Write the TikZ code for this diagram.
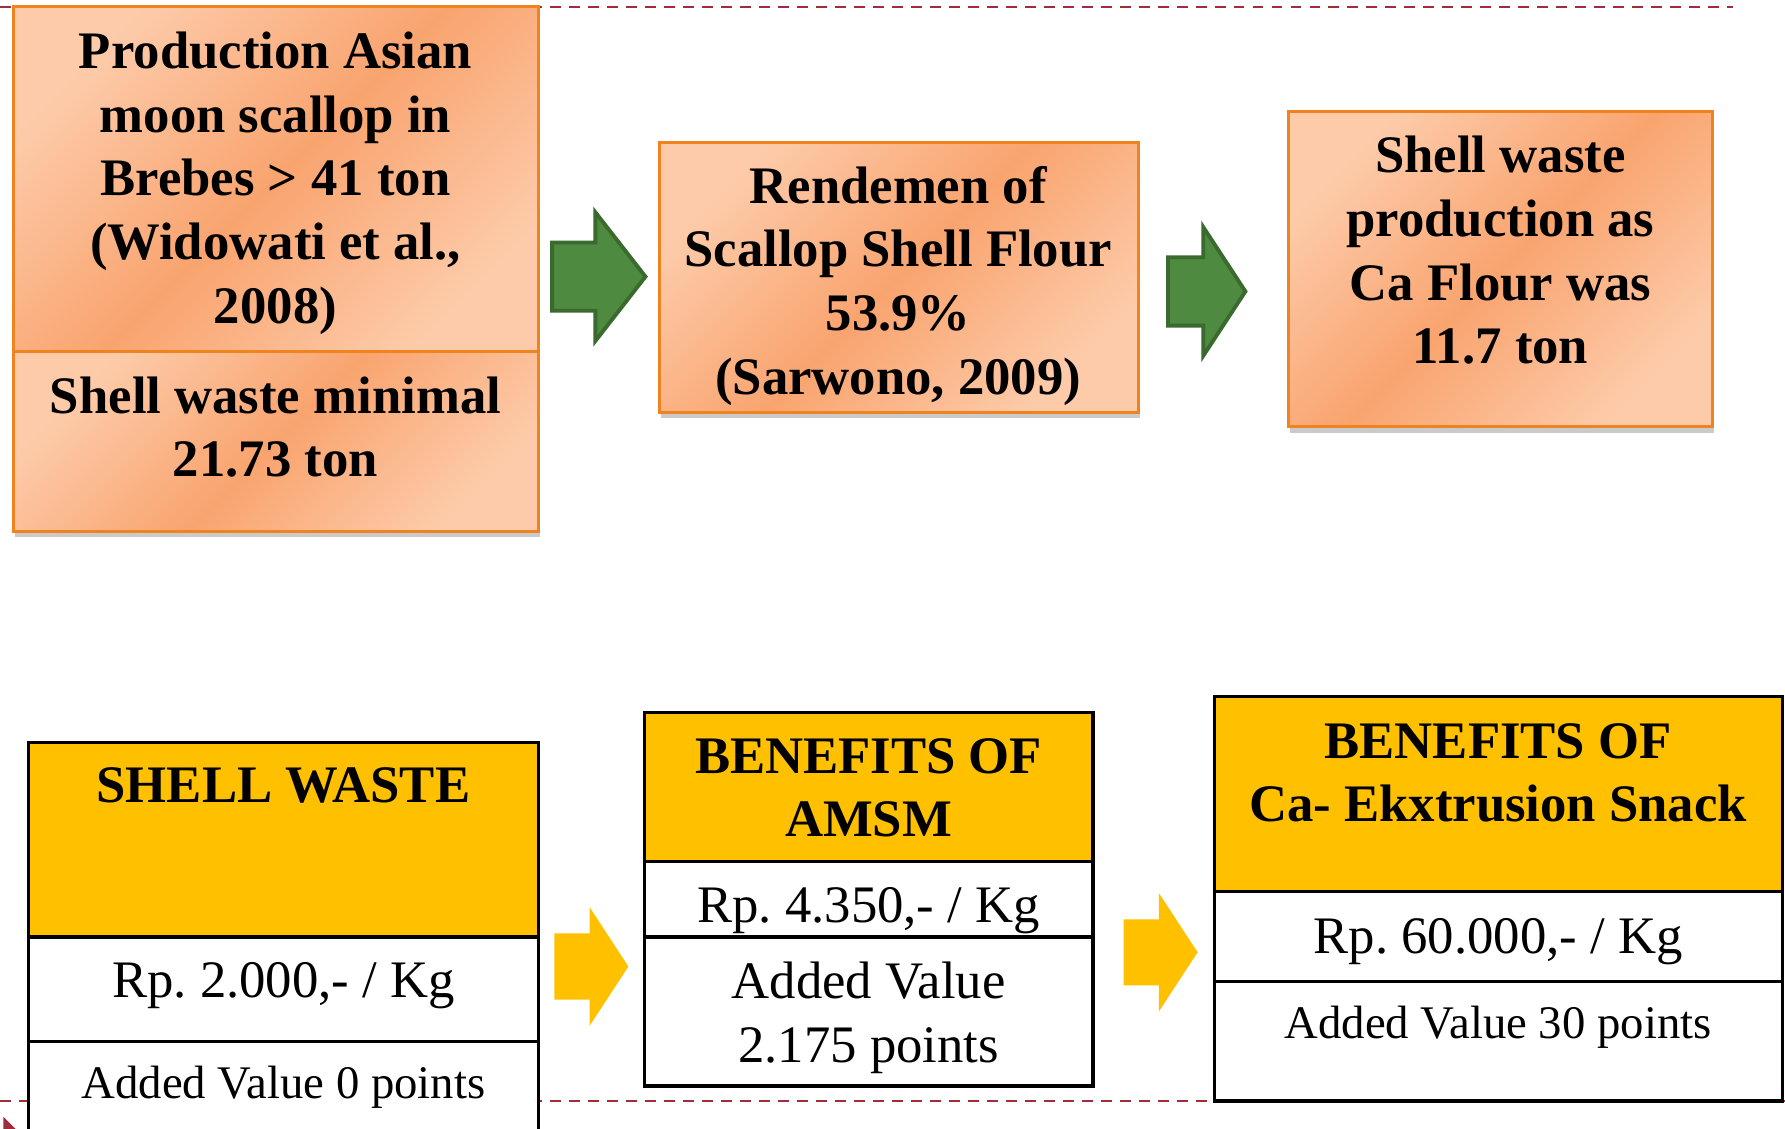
\documentclass[tikz,border=0pt]{standalone}
\usepackage{fontspec}
\setmainfont{Liberation Serif}
\frenchspacing
\usetikzlibrary{shadows}
\definecolor{peach}{HTML}{FDCBAA}
\definecolor{apricot}{HTML}{F9A46F}
\definecolor{tangerine}{HTML}{EF8320}
\definecolor{leaf}{HTML}{4E8A40}
\definecolor{leafdark}{HTML}{3A6A2D}
\definecolor{gold}{HTML}{FFC000}
\definecolor{wine}{HTML}{A02C3C}
\tikzset{
  orangebox/.style={draw=tangerine, line width=0.9pt, left color=peach, right color=peach, middle color=apricot, shading angle=45,
    drop shadow={shadow xshift=0.5pt, shadow yshift=-1.6pt, opacity=0.35, fill=black!60}},
  cell/.style={draw=black, line width=0.95pt},
  boldtxt/.style={font=\fontsize{15}{18.1}\selectfont\bfseries, align=center, inner sep=0pt},
  plaintxt/.style={font=\fontsize{15}{18.1}\selectfont, align=center, inner sep=0pt},
  smalltxt/.style={font=\fontsize{13.3}{16}\selectfont, align=center, inner sep=0pt},
}
\begin{document}
\begin{tikzpicture}[x=0.11384mm, y=-0.11384mm]
            \useasboundingbox (0,0) rectangle (1568,991);
            \draw[wine, line width=0.7pt, dash pattern=on 3.1pt off 2.3pt] (0,6) -- (1522,6);
            \draw[wine, line width=0.7pt, dash pattern=on 3.1pt off 2.3pt] (0,967) -- (1568,967);
            \fill[wine] (3,981) -- (14,992) -- (3,1003) -- cycle;
            \path[orangebox] (12,6) rectangle (473,309);
            \path[orangebox] (12,309) rectangle (473,467);
            \path[orangebox] (579,125) rectangle (1000,362);
            \path[orangebox] (1132,98) rectangle (1504,375);
            \foreach \xa/\xb/\xc/\ym in {485/523/567/243, 1026/1057/1094/256}
              \draw[fill=leaf, draw=leafdark, line width=1.1pt, line join=miter] (\xa,\ym-30) -- (\xb,\ym-30) -- (\xb,\ym-56.5) -- (\xc,\ym) -- (\xb,\ym+56.5) -- (\xb,\ym+30) -- (\xa,\ym+30) -- cycle;
            \foreach \xa/\xb/\xc/\ym in {487/518/552/849, 987/1018/1052/836.5}
              \fill[gold] (\xa,\ym-29) -- (\xb,\ym-29) -- (\xb,\ym-52) -- (\xc,\ym) -- (\xb,\ym+52) -- (\xb,\ym+29) -- (\xa,\ym+29) -- cycle;
            \foreach \xl/\xr/\ya/\yb/\yc/\yd in {25/473/652/823/915/1010, 566/960/626/757/823/954, 1067/1566/612/783/862/967} {
              \draw[cell, fill=gold] (\xl,\ya) rectangle (\xr,\yb);
              \draw[cell, fill=white] (\xl,\yb) rectangle (\xr,\yc);
              \draw[cell, fill=white] (\xl,\yc) rectangle (\xr,\yd);
            }
            \node[boldtxt] (asian) at (242,161) {Production Asian\\moon scallop in\\Brebes > 41 ton\\(Widowati et al.,\\2008)};
            \node[boldtxt] (minimal) at (242,375) {Shell waste minimal\\21.73 ton};
            \node[boldtxt] (rendemen) at (789,251) {Rendemen of\\Scallop Shell Flour\\53.9\%\\(Sarwono, 2009)};
            \node[boldtxt] (caflour) at (1318,220) {Shell waste\\production as\\Ca Flour was\\11.7 ton};
            \node[boldtxt] (wastehead) at (249,690) {SHELL WASTE};
            \node[plaintxt] (wasteprice) at (249,866) {Rp. 2.000,- / Kg};
            \node[smalltxt] (wasteadded) at (249,955) {Added Value 0 points};
            \node[boldtxt] (amsmhead) at (763,692) {BENEFITS OF\\AMSM};
            \node[plaintxt] (amsmprice) at (763,800) {Rp. 4.350,- / Kg};
            \node[plaintxt] (amsmadded) at (763,894) {Added Value\\2.175 points};
            \node[boldtxt] (snackhead) at (1316,679) {BENEFITS OF\\Ca- Ekxtrusion Snack};
            \node[plaintxt] (snackprice) at (1316,827) {Rp. 60.000,- / Kg};
            \node[smalltxt] (snackadded) at (1316,902) {Added Value 30 points};
        \end{tikzpicture}
\end{document}
